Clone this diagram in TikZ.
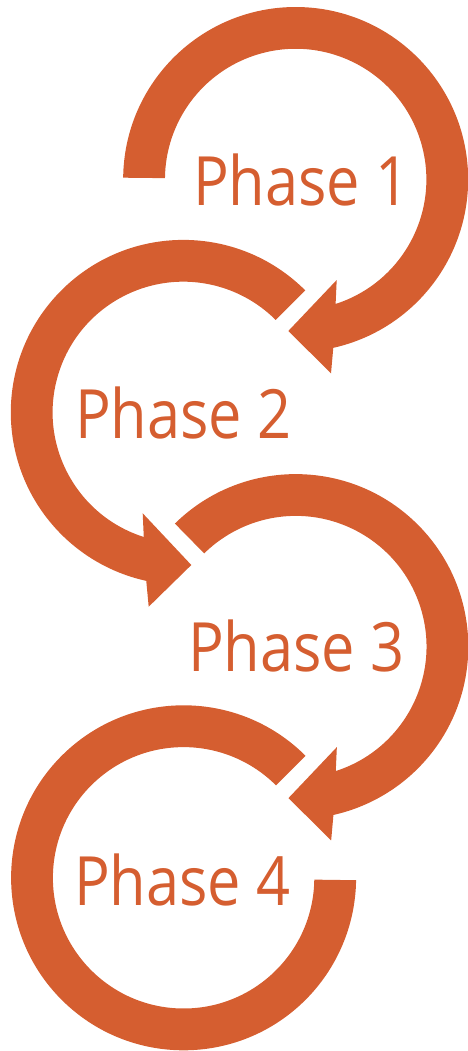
\documentclass[tikz,border=0pt]{standalone}
\usepackage{fontspec}
\setmainfont{Open Sans}
\definecolor{ringorange}{RGB}{213,94,48}
\begin{document}
\begin{tikzpicture}[x=1pt,y=-1pt,
  ring/.style={fill=ringorange,draw=none},
  phaselabel/.style={text=ringorange,font=\fontsize{68}{80}\selectfont,inner sep=0pt,anchor=base west,xscale=0.875}]
\useasboundingbox (0,0) rectangle (467,1051);
% ring 1 (clockwise, arrow at lower left)
\begin{scope}[shift={(295.65,179.5)}]
\fill[ring] (180.6:172.5) arc[start angle=180.6,end angle=437.4,radius=172.5]
  -- (35.35,193.8) -- (-7.35,151.5) -- (41.05,100.5)
  -- (432.2:130.7) arc[start angle=432.2,end angle=180.6,radius=130.7] -- cycle;
\end{scope}
% ring 2 (counter-clockwise, arrow at lower right)
\begin{scope}[shift={(183.3,412.4)}]
\fill[ring] (315:172.5) arc[start angle=315,end angle=102.4,radius=172.5]
  -- (-34.6,194.3) -- (8.0,152.6) -- (-40.6,100.9)
  -- (107.6:130.7) arc[start angle=107.6,end angle=315,radius=130.7] -- cycle;
\end{scope}
% ring 3 (clockwise, arrow at lower left)
\begin{scope}[shift={(295.8,646.6)}]
\fill[ring] (225.5:172.5) arc[start angle=225.5,end angle=437.4,radius=172.5]
  -- (35.35,193.8) -- (-7.35,151.5) -- (41.05,100.5)
  -- (432.2:130.7) arc[start angle=432.2,end angle=225.5,radius=130.7] -- cycle;
\end{scope}
% ring 4 (counter-clockwise, no arrow)
\begin{scope}[shift={(183.6,877.8)}]
\fill[ring] (315:172.5) arc[start angle=315,end angle=0.8,radius=172.5]
  -- (0.8:130.7) arc[start angle=0.8,end angle=315,radius=130.7] -- cycle;
\end{scope}
\node[phaselabel] (p1) at (193,205) {Phase 1};
\node[phaselabel] (p2) at (75,438.3) {Phase 2};
\node[phaselabel] (p3) at (188,671.7) {Phase 3};
\node[phaselabel] (p4) at (74,905) {Phase 4};
\end{tikzpicture}
\end{document}
